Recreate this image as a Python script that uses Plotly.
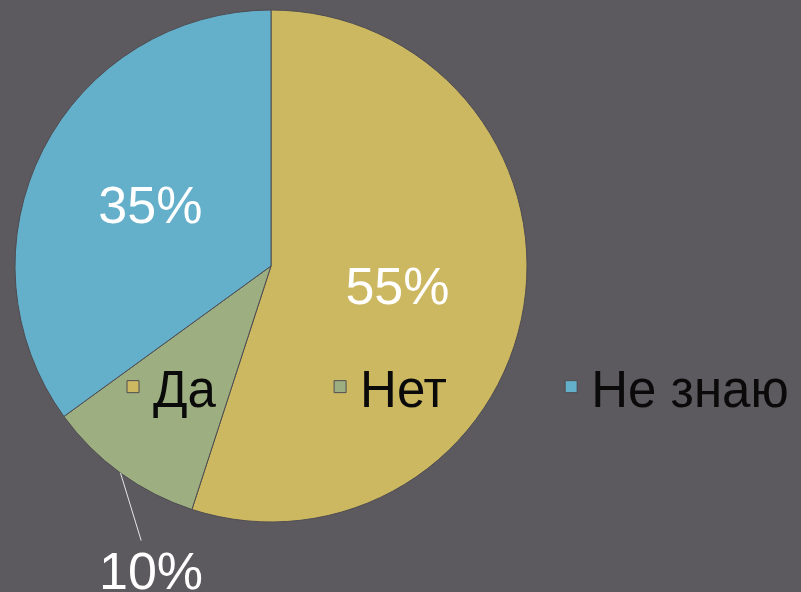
import math
import plotly.graph_objects as go

# survey answers
labels = ["Да", "Нет", "Не знаю"]
values = [55, 10, 35]
colors = ["#CDB862", "#9DAF80", "#64AFC9"]

W, H = 801, 592
cx, cy, r = 271, 266, 256  # pie centre / radius in px
FONT = "Liberation Sans, Arial"

# legend entries are spaced out like in the original slide
pad = ["\u00a0" * 7, "\u00a0" * 7, ""]
legend_names = [lab + p for lab, p in zip(labels, pad)]

fig = go.Figure(go.Pie(
    labels=legend_names,
    values=values,
    sort=False,
    direction="clockwise",
    rotation=0,
    marker=dict(colors=colors, line=dict(color="#4f4d52", width=1)),
    texttemplate=["%{percent:.0%}", "", "%{percent:.0%}"],
    textposition="inside",
    insidetextorientation="horizontal",
    insidetextfont=dict(color="white", size=52, family=FONT),
    hoverinfo="label+percent",
    domain=dict(x=[(cx - r) / W, (cx + r) / W],
                y=[1 - (cy + r) / H, 1 - (cy - r) / H]),
))

# outside label for the small slice, anchored at its mid angle on the rim
total = sum(values)
start = sum(values[:1]) / total * 360
mid = math.radians(start + values[1] / total * 360 / 2)
ex = cx + r * math.sin(mid)
ey = cy - r * math.cos(mid)
fig.add_annotation(
    x=ex / W, y=1 - ey / H, xref="paper", yref="paper",
    text=f"{values[1] / total:.0%}",
    showarrow=True, arrowhead=0, arrowwidth=1, arrowcolor="#e6e6e6",
    ax=30, ay=98, standoff=0,
    font=dict(color="white", size=52, family=FONT),
)

fig.update_layout(
    width=W, height=H,
    margin=dict(l=0, r=0, t=0, b=0),
    paper_bgcolor="#5c595f",
    plot_bgcolor="#5c595f",
    showlegend=True,
    legend=dict(
        orientation="h",
        x=113 / W, xanchor="left",
        y=1 - 387 / H, yanchor="middle",
        bgcolor="rgba(0,0,0,0)",
        font=dict(size=51, color="#0a0a0a", family=FONT),
    ),
)

fig.write_html("out.html", config={"displayModeBar": False},
               post_script="document.body.style.margin='0';")
